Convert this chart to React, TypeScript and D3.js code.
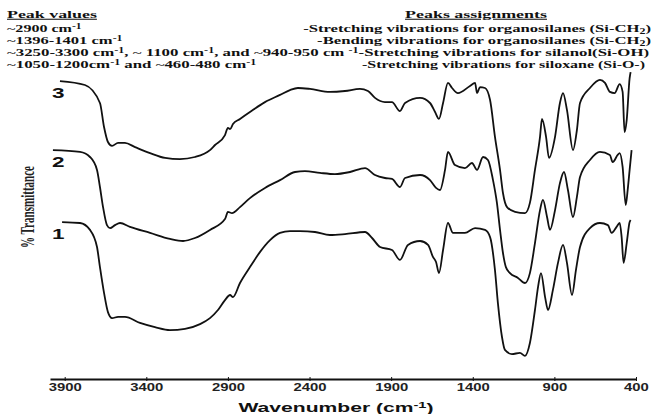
import React, { useEffect, useRef } from "react";
import * as d3 from "d3";

// FTIR spectra: [wavenumber (cm-1), transmittance (a.u., offset)]
const spectrum3: [number, number][] = [
  [3929, 96.3], [3776, 95.0], [3684, 89.0], [3659, 81.0], [3635, 76.0], [3610, 74.7],
  [3573, 75.7], [3531, 75.7], [3469, 74.3], [3377, 72.3], [3285, 70.7], [3194, 70.3],
  [3102, 71.0], [3010, 73.3], [2979, 75.0], [2918, 78.3], [2900, 80.7], [2887, 80.3],
  [2869, 82.0], [2826, 83.7], [2765, 86.0], [2673, 89.3], [2581, 91.7], [2520, 93.3],
  [2471, 94.0], [2397, 93.7], [2275, 92.7], [2183, 93.0], [2091, 93.7], [2042, 93.0],
  [1999, 90.7], [1938, 89.3], [1895, 89.3], [1846, 86.3], [1815, 89.0], [1723, 90.7],
  [1662, 89.0], [1631, 86.0], [1607, 83.7], [1582, 89.0], [1552, 95.7], [1527, 94.0],
  [1491, 92.3], [1417, 94.7], [1386, 95.7], [1374, 92.3], [1356, 94.3], [1325, 94.0],
  [1294, 90.0], [1264, 77.7], [1233, 66.7], [1215, 59.0], [1190, 54.3], [1141, 52.7],
  [1080, 52.3], [1050, 55.7], [1019, 66.7], [988, 77.7], [976, 83.7], [951, 77.7],
  [933, 70.7], [896, 77.7], [866, 89.0], [847, 92.3], [823, 86.7], [786, 73.3],
  [762, 80.0], [743, 89.0], [682, 94.0], [621, 96.7], [590, 95.7], [560, 92.7],
  [531, 92.3], [500, 95.3], [482, 92.7], [470, 79.3], [457, 83.3], [439, 97.3], [433, 99.3],
];

const spectrum2: [number, number][] = [
  [3972, 73.3], [3806, 72.7], [3745, 71.0], [3702, 66.7], [3684, 61.0], [3665, 54.3],
  [3641, 48.3], [3622, 47.3], [3592, 48.3], [3561, 49.0], [3500, 47.7], [3377, 45.7],
  [3255, 43.7], [3175, 43.0], [3102, 44.0], [3010, 46.7], [2918, 50.3], [2900, 52.7],
  [2875, 52.3], [2826, 54.3], [2765, 57.3], [2673, 60.7], [2581, 63.3], [2489, 66.0],
  [2428, 66.3], [2336, 65.7], [2244, 65.3], [2152, 66.0], [2060, 67.3], [1999, 65.0],
  [1938, 64.0], [1895, 63.7], [1846, 61.0], [1815, 64.0], [1723, 65.0], [1662, 63.3],
  [1625, 60.7], [1601, 60.0], [1570, 66.7], [1552, 72.7], [1509, 68.3], [1448, 67.3],
  [1405, 69.0], [1374, 66.7], [1337, 71.0], [1307, 70.0], [1276, 63.3], [1252, 55.7],
  [1233, 46.7], [1215, 39.0], [1197, 34.3], [1172, 32.3], [1123, 30.7], [1080, 29.0],
  [1050, 32.3], [1019, 42.3], [988, 53.3], [970, 56.7], [945, 51.0], [927, 46.7],
  [896, 53.3], [866, 62.3], [841, 66.0], [817, 60.0], [786, 51.0], [762, 57.7],
  [743, 64.3], [682, 70.0], [621, 72.7], [560, 71.7], [543, 69.3], [512, 71.7],
  [500, 72.3], [482, 67.7], [463, 55.0], [451, 60.0], [439, 66.7], [427, 73.3],
];

const spectrum1: [number, number][] = [
  [3916, 49.3], [3806, 49.0], [3745, 46.7], [3702, 41.0], [3684, 34.3], [3659, 25.7],
  [3635, 19.3], [3610, 17.3], [3573, 17.7], [3531, 17.7], [3439, 15.7], [3347, 14.3],
  [3255, 13.3], [3163, 13.7], [3071, 15.3], [3010, 17.3], [2961, 20.0], [2918, 23.3],
  [2887, 25.0], [2869, 24.3], [2826, 29.0], [2765, 34.3], [2704, 39.3], [2642, 43.3],
  [2581, 45.7], [2520, 46.3], [2459, 46.3], [2367, 46.0], [2275, 45.0], [2183, 45.3],
  [2060, 46.0], [2017, 44.0], [1968, 41.0], [1895, 40.0], [1846, 36.7], [1797, 41.7],
  [1723, 43.0], [1674, 41.7], [1644, 37.7], [1625, 36.0], [1607, 32.3], [1582, 40.0],
  [1552, 49.0], [1521, 45.7], [1448, 45.7], [1386, 47.3], [1325, 46.7], [1294, 44.3],
  [1264, 33.3], [1246, 22.3], [1221, 11.0], [1203, 6.7], [1160, 5.3], [1111, 5.7],
  [1080, 4.7], [1050, 9.0], [1019, 20.0], [1000, 27.7], [982, 32.3], [957, 24.3],
  [939, 20.0], [909, 26.7], [878, 35.7], [847, 41.7], [823, 35.7], [792, 25.0],
  [768, 33.3], [743, 41.0], [682, 47.3], [621, 49.0], [572, 48.3], [549, 45.7],
  [519, 47.7], [500, 49.0], [488, 44.3], [476, 35.7], [457, 42.3], [439, 49.3], [433, 50.0],
];

const seriesNames = ["3", "2", "1"];
const seriesData = [spectrum3, spectrum2, spectrum1];
const tickValues = [3900, 3400, 2900, 2400, 1900, 1400, 900, 400];

const W = 655;
const H = 414;

// superscript "-1" followed by the rest of the line on the normal baseline
function Sup({ rest }: { rest?: string }) {
  return (
    <>
      <tspan dy={-3.5} fontSize={7.5}>-1</tspan>
      {rest ? <tspan dy={3.5}>{rest}</tspan> : null}
    </>
  );
}

export default function App() {
  const axisRef = useRef<SVGGElement>(null);
  const headRef = useRef<SVGGElement>(null);

  const x = d3.scaleLinear().domain([3990, 400]).range([50, 636]);
  const y = d3.scaleLinear().domain([0, 100]).range([370, 70]);
  const line = d3
    .line<[number, number]>()
    .x((d) => x(d[0]))
    .y((d) => y(d[1]))
    .curve(d3.curveMonotoneX);

  useEffect(() => {
    const g = d3.select(axisRef.current);
    g.selectAll("*").remove();
    g.call(
      d3.axisBottom(x).tickValues(tickValues).tickSizeInner(3).tickSizeOuter(0).tickPadding(1).tickFormat(d3.format("d"))
    );
    g.select(".domain").attr("stroke", "#111").attr("stroke-width", 2);
    g.selectAll(".tick line").attr("stroke", "#111").attr("y1", -2).attr("y2", 2);
    g.selectAll(".tick text")
      .attr("fill", "#222")
      .style("font-family", "Liberation Sans, Arial, sans-serif")
      .style("font-weight", "bold")
      .style("font-size", "11px")
      .attr("transform", "scale(1.35,1)");

    // stretch the header lines horizontally to the widths they have in the figure
    d3.select(headRef.current)
      .selectAll<SVGTextElement, unknown>("text[data-w]")
      .each(function () {
        const el = this;
        el.removeAttribute("transform");
        const w = el.getBBox().width;
        const target = +(el.getAttribute("data-w") || w);
        if (w > 0) el.setAttribute("transform", `scale(${target / w},1)`);
      });
  }, []);

  const serif = "Liberation Serif, Times New Roman, serif";

  return (
    <svg
      width={W}
      height={H}
      style={{ position: "absolute", left: 0, top: 0, background: "#fff" }}
    >
      <g ref={headRef} fontFamily={serif} fontWeight="bold" fontSize={10.5} fill="#111">
        <g transform="translate(7,18)">
          <text data-w={90} textDecoration="underline">Peak values</text>
        </g>
        <g transform="translate(476,18)">
          <text data-w={142} textAnchor="middle" textDecoration="underline">Peaks assignments</text>
        </g>
        <g transform="translate(7,32)">
          <text data-w={75}>~2900 cm<Sup /></text>
        </g>
        <g transform="translate(651,32)">
          <text data-w={349} textAnchor="end">
            -Stretching vibrations for organosilanes (Si-CH<tspan dy={1.5} fontSize={7.5}>2</tspan>
            <tspan dy={-1.5}>)</tspan>
          </text>
        </g>
        <g transform="translate(7,44)">
          <text data-w={116}>~1396-1401 cm<Sup /></text>
        </g>
        <g transform="translate(651,44)">
          <text data-w={335} textAnchor="end">
            -Bending vibrations for organosilanes (Si-CH<tspan dy={1.5} fontSize={7.5}>2</tspan>
            <tspan dy={-1.5}>)</tspan>
          </text>
        </g>
        <g transform="translate(7,56)">
          <text data-w={644}>
            ~3250-3300 cm<Sup rest=", ~ 1100 cm" /><Sup rest=", and ~940-950 cm " />
            <Sup rest="-Stretching vibrations for silanol(Si-OH)" />
          </text>
        </g>
        <g transform="translate(7,68)">
          <text data-w={250}>
            ~1050-1200cm<Sup rest=" and ~460-480 cm" /><Sup />
          </text>
        </g>
        <g transform="translate(645,68)">
          <text data-w={284} textAnchor="end">-Stretching vibrations for siloxane (Si-O-)</text>
        </g>
      </g>

      {seriesData.map((s, i) => (
        <path key={i} d={line(s) ?? ""} fill="none" stroke="#111" strokeWidth={1.8} strokeLinejoin="round" />
      ))}

      {seriesData.map((s, i) => (
        <text
          key={"l" + i}
          transform={`translate(${x(3940)},${y(s[0][1]) + 17}) scale(1.5,1)`}
          textAnchor="middle"
          fontFamily="Liberation Sans, Arial, sans-serif"
          fontWeight="bold"
          fontSize={15}
          fill="#111"
        >
          {seriesNames[i]}
        </text>
      ))}

      <text
        transform="translate(34,207) rotate(-90)"
        textAnchor="middle"
        fontFamily={serif}
        fontWeight="bold"
        fontSize={18}
        fill="#222"
        textLength={82}
        lengthAdjust="spacingAndGlyphs"
      >
        % Transmittance
      </text>

      <g ref={axisRef} transform="translate(0,379)" />

      <text
        x={336}
        y={412}
        textAnchor="middle"
        fontFamily="Liberation Sans, Arial, sans-serif"
        fontWeight="bold"
        fontSize={13}
        fill="#111"
        textLength={195}
        lengthAdjust="spacingAndGlyphs"
      >
        Wavenumber (cm<tspan dy={-4} fontSize={9}>-1</tspan><tspan dy={4}>)</tspan>
      </text>
    </svg>
  );
}
